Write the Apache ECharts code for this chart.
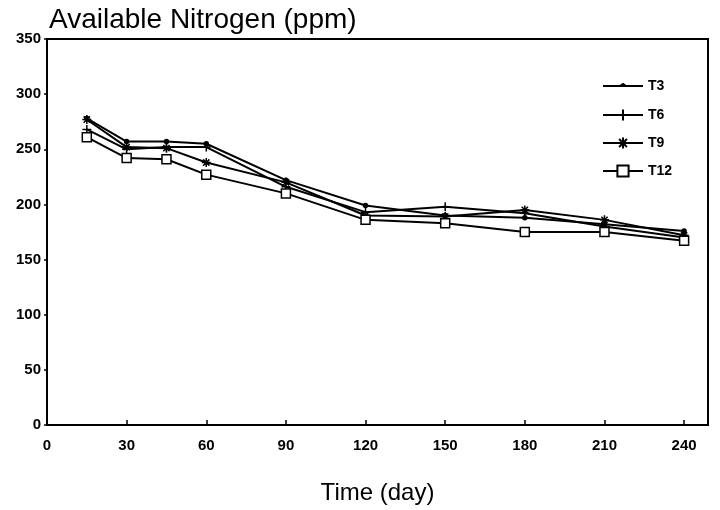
<!DOCTYPE html>
<html><head><meta charset="utf-8">
<script src="https://cdn.jsdelivr.net/npm/echarts@6/dist/echarts.min.js"></script>
<style>html,body{margin:0;padding:0;background:#fff}#c{width:720px;height:510px}</style>
</head><body><div id="c"></div>
<script>
var days = [15, 30, 45, 60, 90, 120, 150, 180, 210, 240];
var T3  = [278, 257, 257, 255, 222, 199, 190, 188, 182, 176];
var T6  = [268, 250, 252, 252, 216, 193, 198, 192, 180, 170];
var T9  = [277, 252, 251, 238, 220, 190, 189, 195, 186, 172];
var T12 = [261, 242, 241, 227, 210, 186, 183, 175, 175, 167];
var seriesNames = ['T3', 'T6', 'T9', 'T12'];
var xTicks = [0, 30, 60, 90, 120, 150, 180, 210, 240];
var yTicks = [0, 50, 100, 150, 200, 250, 300, 350];

var FONT = '"Liberation Sans", Arial, sans-serif';
function pairs(v){ return days.map(function(d,i){ return [d, v[i]]; }); }
var symbols = {
  T3: 'circle',
  T6: 'path://M0,5L10,5M5,0L5,10',
  T9: 'path://M0,5L10,5M5,0L5,10M1.5,1.5L8.5,8.5M8.5,1.5L1.5,8.5',
  T12: 'rect'
};
var sizes = {T3: 4, T6: 9, T9: 9, T12: 9};
var dataMap = {T3: T3, T6: T6, T9: T9, T12: T12};

var chart = echarts.init(document.getElementById('c'), null, {renderer: 'canvas'});
chart.setOption({
  backgroundColor: '#fff',
  animation: false,
  textStyle: {fontFamily: FONT, color: '#000'},
  title: {
    text: 'Available Nitrogen (ppm)', left: 44, top: 1,
    textStyle: {fontFamily: FONT, fontSize: 28, fontWeight: 'normal', color: '#000'}
  },
  legend: {
    orient: 'vertical', left: 597, top: 73, itemGap: 14,
    itemWidth: 40, itemHeight: 14,
    data: [
      {name: 'T3', icon: 'path://M0,0M0,7L40,7M17,7L20,5L23,7M40,14',
       itemStyle: {color: 'transparent', borderColor: '#000', borderWidth: 2}},
      'T6', 'T9', 'T12'
    ],
    textStyle: {fontFamily: FONT, fontSize: 14, fontWeight: 'bold', color: '#000'}
  },
  grid: {
    left: 47, right: 12, top: 39, bottom: 85,
    show: true, borderColor: '#000', borderWidth: 2, backgroundColor: 'transparent'
  },
  xAxis: {
    type: 'value', min: 0, max: 249, interval: 30,
    name: 'Time (day)', nameLocation: 'middle', nameGap: 56,
    nameTextStyle: {fontFamily: FONT, fontSize: 24, color: '#000'},
    axisLine: {lineStyle: {color: '#000', width: 2}},
    axisTick: {inside: true, length: 5, lineStyle: {color: '#000', width: 1.5}},
    axisLabel: {
      fontFamily: FONT, fontSize: 15, fontWeight: 'bold', color: '#000', margin: 13,
      formatter: function(v){ return xTicks.indexOf(v) >= 0 ? String(v) : ''; }
    },
    splitLine: {show: false}
  },
  yAxis: {
    type: 'value', min: 0, max: 350, interval: 50,
    axisLine: {show: true, lineStyle: {color: '#000', width: 2}},
    axisTick: {show: true, inside: false, length: 3, lineStyle: {color: '#000', width: 1.5}},
    axisLabel: {
      fontFamily: FONT, fontSize: 15, fontWeight: 'bold', color: '#000', margin: 6,
      formatter: function(v){ return yTicks.indexOf(v) >= 0 ? String(v) : ''; }
    },
    splitLine: {show: false}
  },
  series: seriesNames.map(function(n){
    return {
      name: n, type: 'line', data: pairs(dataMap[n]),
      symbol: symbols[n], symbolSize: sizes[n], showAllSymbol: true,
      lineStyle: {color: '#000', width: 2},
      itemStyle: {color: n === 'T12' ? '#fff' : '#000', borderColor: '#000', borderWidth: 1.5},
      emphasis: {disabled: true}
    };
  })
});
</script></body></html>
